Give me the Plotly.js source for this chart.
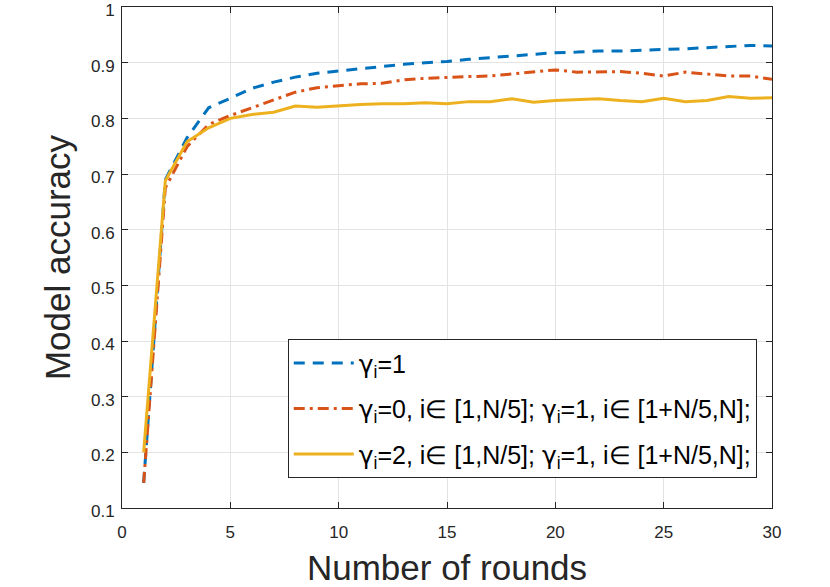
<!DOCTYPE html>
<html>
<head>
<meta charset="utf-8">
<script src="https://cdn.plot.ly/plotly-3.0.1.min.js"></script>
<style>
  body { margin: 0; background: #fff; }
  #chart { width: 830px; height: 587px; }
</style>
</head>
<body>
<div id="chart"></div>
<script>
// rounds 1..30
var rounds = [1, 2, 3, 4, 5, 6, 7, 8, 9, 10, 11, 12, 13, 14, 15,
              16, 17, 18, 19, 20, 21, 22, 23, 24, 25, 26, 27, 28, 29, 30];

// gamma_i = 1 for all
var accAll1 = [0.145, 0.690, 0.765, 0.819, 0.836, 0.854, 0.865, 0.874, 0.881, 0.885,
               0.889, 0.894, 0.897, 0.900, 0.902, 0.906, 0.909, 0.912, 0.915, 0.918,
               0.919, 0.921, 0.921, 0.922, 0.924, 0.925, 0.927, 0.929, 0.931, 0.930];

// gamma_i = 0 for first N/5
var accGamma0 = [0.145, 0.675, 0.749, 0.789, 0.805, 0.819, 0.833, 0.847, 0.855, 0.858,
                 0.862, 0.863, 0.869, 0.872, 0.874, 0.875, 0.876, 0.880, 0.883, 0.887,
                 0.883, 0.884, 0.884, 0.881, 0.876, 0.883, 0.879, 0.876, 0.876, 0.870];

// gamma_i = 2 for first N/5
var accGamma2 = [0.200, 0.688, 0.758, 0.783, 0.800, 0.807, 0.811, 0.822, 0.820, 0.823,
                 0.825, 0.826, 0.826, 0.828, 0.826, 0.830, 0.830, 0.835, 0.829, 0.832,
                 0.834, 0.835, 0.832, 0.830, 0.836, 0.830, 0.832, 0.839, 0.836, 0.837];

var xTicks = [0, 5, 10, 15, 20, 25, 30];
var yTicks = [0.1, 0.2, 0.3, 0.4, 0.5, 0.6, 0.7, 0.8, 0.9, 1];
var yTickText = ['0.1', '0.2', '0.3', '0.4', '0.5', '0.6', '0.7', '0.8', '0.9', '1'];
var xRange = [0, 30];
var yRange = [0.1, 1];

var g = '<span style="font-family:DejaVu Sans">γ</span><sub>i</sub>';
var names = [
    g + '=1',
    g + '=0, i∈ [1,N/5]; ' + g + '=1, i∈ [1+N/5,N];',
    g + '=2, i∈ [1,N/5]; ' + g + '=1, i∈ [1+N/5,N];'
];

var fontFamily = 'Liberation Sans, Arial, Helvetica, sans-serif';
var ink = '#262626';

var trace1 = {
    x: rounds, y: accAll1, type: 'scatter', mode: 'lines',
    name: names[0], legendgroup: 'a',
    line: { color: '#0072BD', width: 3, dash: '11px,8px' }
};
var trace2 = {
    x: rounds, y: accGamma0, type: 'scatter', mode: 'lines',
    name: names[1], legendgroup: 'b',
    line: { color: '#D95319', width: 3, dash: '11px,5px,3px,5px' }
};
var trace3 = {
    x: rounds, y: accGamma2, type: 'scatter', mode: 'lines',
    name: names[2], legendgroup: 'c',
    line: { color: '#EDB120', width: 3 }
};
// empty trace so the overlay axes (box + inside ticks) get drawn
var boxTrace = {
    x: [null], y: [null], xaxis: 'x2', yaxis: 'y2',
    type: 'scatter', mode: 'lines', showlegend: false, hoverinfo: 'skip'
};

// main axes: grid + labels, ticks pushed outward invisibly to space the labels
var labelAxis = {
    showgrid: true,
    gridcolor: '#e3e3e3',
    gridwidth: 1,
    zeroline: false,
    showline: false,
    ticks: 'outside',
    tickcolor: 'rgba(0,0,0,0)',
    ticklabeloverflow: 'allow',
    tickfont: { family: fontFamily, size: 17, color: ink }
};

// overlay axes: the black box with inside ticks on all four sides
var boxAxis = {
    showgrid: false,
    zeroline: false,
    showline: true,
    linecolor: ink,
    linewidth: 1,
    mirror: 'ticks',
    ticks: 'inside',
    ticklen: 6,
    tickcolor: ink,
    showticklabels: false,
    tickmode: 'array'
};

var layout = {
    width: 830,
    height: 587,
    margin: { l: 122, r: 58, t: 7, b: 79 },
    paper_bgcolor: '#fff',
    plot_bgcolor: '#fff',
    font: { family: fontFamily, color: ink },
    xaxis: Object.assign({}, labelAxis, {
        range: xRange,
        tickmode: 'array',
        tickvals: xTicks,
        ticklen: 9,
        title: { text: 'Number of rounds', font: { family: fontFamily, size: 35, color: ink }, standoff: 18 }
    }),
    yaxis: Object.assign({}, labelAxis, {
        range: yRange,
        tickmode: 'array',
        tickvals: yTicks,
        ticktext: yTickText,
        ticklen: 3,
        ticklabelshift: 3,
        title: { text: 'Model accuracy', font: { family: fontFamily, size: 35, color: ink }, standoff: 9 }
    }),
    xaxis2: Object.assign({}, boxAxis, { range: xRange, tickvals: xTicks, overlaying: 'x', side: 'bottom' }),
    yaxis2: Object.assign({}, boxAxis, { range: yRange, tickvals: yTicks, overlaying: 'y', side: 'left' }),
    showlegend: true,
    legend: {
        x: 0.255, y: 0.337,
        xanchor: 'left', yanchor: 'top',
        bgcolor: '#fff',
        bordercolor: ink,
        borderwidth: 1,
        itemwidth: 60,
        tracegroupgap: 10,
        font: { family: fontFamily, size: 25, color: '#000' }
    }
};

Plotly.newPlot('chart', [trace1, trace2, trace3, boxTrace], layout, { displayModeBar: false, staticPlot: true });
</script>
</body>
</html>
